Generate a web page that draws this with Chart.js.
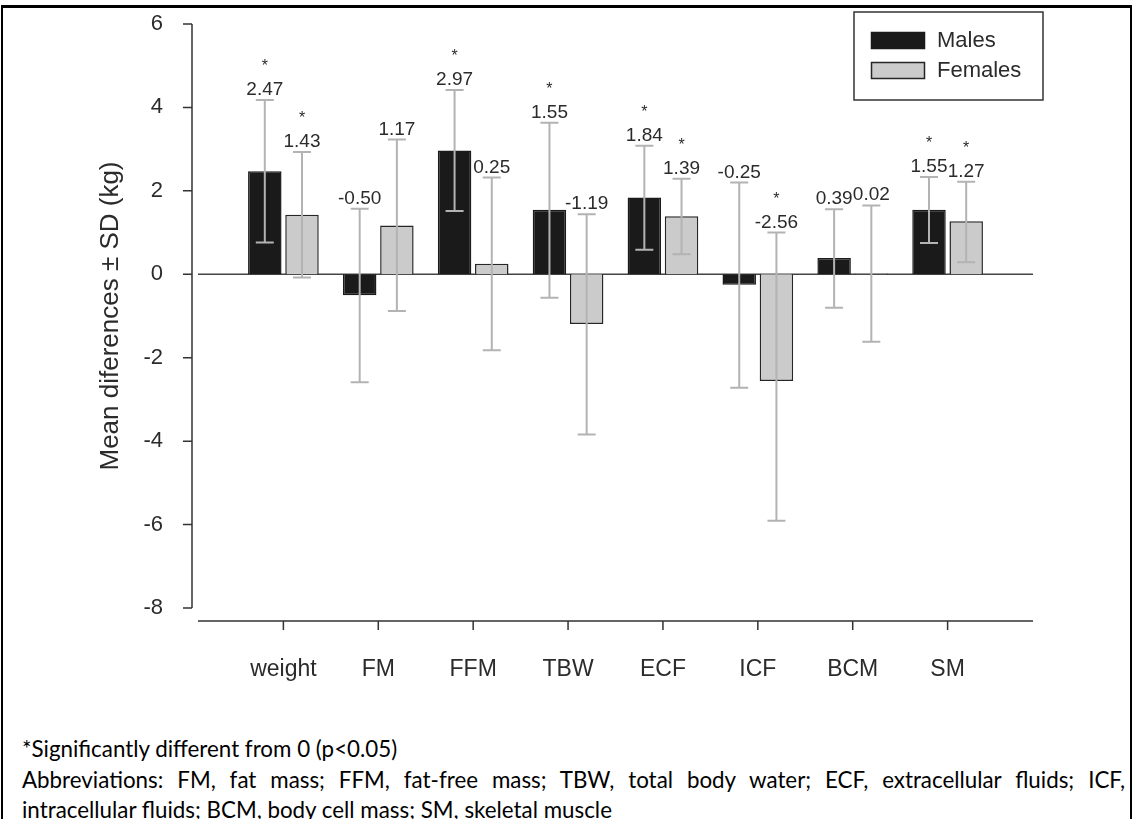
<!DOCTYPE html>
<html>
<head>
<meta charset="utf-8">
<script src="https://cdn.jsdelivr.net/npm/chart.js@4.4.0/dist/chart.umd.min.js"></script>
<style>
body { margin: 0; background: #fff; }
#page { position: relative; width: 1134px; height: 819px; overflow: hidden; background: #fff; }
#frame { position: absolute; left: 1px; top: 5px; width: 1131px; height: 830px; box-sizing: border-box;
         border: solid #000; border-width: 3px 2px 0 2px; pointer-events: none; }
canvas { position: absolute; left: 0; top: 0; }
.note { position: absolute; left: 22px; font-family: Lato, "Open Sans", sans-serif; color: #000;
        white-space: nowrap; line-height: 1; }
</style>
</head>
<body>
<div id="page">
  <canvas id="chart" width="1134" height="700"></canvas>
  <div class="note" id="n1" style="top:738px">*Significantly different from 0 (p&lt;0.05)</div>
  <div class="note" id="n2" style="top:769px; width:1103px; white-space:normal; text-align:justify; text-align-last:justify">Abbreviations: FM, fat mass; FFM, fat-free mass; TBW, total body water; ECF, extracellular fluids; ICF,</div>
  <div class="note" id="n3" style="top:799px">intracellular fluids; BCM, body cell mass; SM, skeletal muscle</div>
  <div id="frame"></div>
</div>
<script>
const categories = ['weight', 'FM', 'FFM', 'TBW', 'ECF', 'ICF', 'BCM', 'SM'];
const males = [2.47, -0.50, 2.97, 1.55, 1.84, -0.25, 0.39, 1.55];
const females = [1.43, 1.17, 0.25, -1.19, 1.39, -2.56, 0.02, 1.27];
// ends of the SD whiskers
const malesUpper = [4.18, 1.57, 4.42, 3.63, 3.08, 2.20, 1.56, 2.33];
const malesLower = [0.76, -2.59, 1.52, -0.56, 0.59, -2.72, -0.80, 0.75];
const femalesUpper = [2.93, 3.23, 2.32, 1.44, 2.29, 1.00, 1.65, 2.22];
const femalesLower = [-0.08, -0.88, -1.82, -3.84, 0.48, -5.91, -1.62, 0.29];
// significant difference from 0 (asterisk)
const malesSig = [1, 0, 1, 1, 1, 0, 0, 1];
const femalesSig = [1, 0, 0, 0, 1, 1, 0, 1];
const yTicks = [6, 4, 2, 0, -2, -4, -6, -8];

const FONT = '"Liberation Sans", Arial, sans-serif';

// fit the footnote font so the first line is as wide as in the figure
(function () {
    const c = document.createElement('canvas').getContext('2d');
    c.font = '100px Lato';
    const w = c.measureText(document.getElementById('n1').textContent).width;
    const size = 100 * 376 / w;
    document.querySelectorAll('.note').forEach(n => n.style.fontSize = size + 'px');
})();

const sdPlugin = {
    id: 'sdPlugin',
    beforeDatasetsDraw(chart) {
        const {ctx, chartArea, scales: {y}} = chart;
        const y0 = y.getPixelForValue(0);
        ctx.save();
        ctx.strokeStyle = '#444';
        ctx.lineWidth = 1.5;
        ctx.beginPath();
        ctx.moveTo(chartArea.left, y0);
        ctx.lineTo(chartArea.right, y0);
        ctx.stroke();
        ctx.restore();
    },
    afterDatasetsDraw(chart) {
        const {ctx, scales: {y}} = chart;
        ctx.save();
        chart.data.datasets.forEach((ds, d) => {
            chart.getDatasetMeta(d).data.forEach((bar, i) => {
                const top = y.getPixelForValue(ds.upper[i]);
                const bot = y.getPixelForValue(ds.lower[i]);
                ctx.strokeStyle = '#b3b3b3';
                ctx.lineWidth = 2;
                ctx.beginPath();
                ctx.moveTo(bar.x, top); ctx.lineTo(bar.x, bot);
                ctx.moveTo(bar.x - 9, top); ctx.lineTo(bar.x + 9, top);
                ctx.moveTo(bar.x - 9, bot); ctx.lineTo(bar.x + 9, bot);
                ctx.stroke();
                ctx.fillStyle = '#2b2b2b';
                ctx.textAlign = 'center';
                ctx.textBaseline = 'alphabetic';
                ctx.font = '19px ' + FONT;
                ctx.fillText(ds.data[i].y.toFixed(2), bar.x, top - 5);
                if (ds.sig[i]) {
                    ctx.font = '16px ' + FONT;
                    ctx.fillText('*', bar.x, top - 29);
                }
            });
        });
        ctx.restore();
    },
    afterDraw(chart) {
        const {ctx, chartArea, scales: {x, y}} = chart;
        ctx.save();
        ctx.strokeStyle = '#333';
        ctx.lineWidth = 1.5;
        // y axis, set a little left of the plot
        const ax = chartArea.left - 6;
        ctx.beginPath();
        ctx.moveTo(ax, y.getPixelForValue(yTicks[0]));
        ctx.lineTo(ax, y.getPixelForValue(yTicks[yTicks.length - 1]));
        yTicks.forEach(v => {
            const py = y.getPixelForValue(v);
            ctx.moveTo(ax - 9, py); ctx.lineTo(ax, py);
        });
        // x axis, set a little below the plot
        const ay = chartArea.bottom + 13;
        ctx.moveTo(chartArea.left, ay);
        ctx.lineTo(chartArea.right, ay);
        categories.forEach((c, i) => {
            const px = x.getPixelForValue(i);
            ctx.moveTo(px, ay); ctx.lineTo(px, ay + 9);
        });
        ctx.stroke();

        // legend box
        ctx.lineWidth = 1.5;
        ctx.strokeStyle = '#333';
        ctx.strokeRect(854, 12, 189, 88);
        ctx.font = '22px ' + FONT;
        ctx.textAlign = 'left';
        ctx.textBaseline = 'middle';
        chart.data.datasets.forEach((ds, d) => {
            const top = 32 + d * 30;
            ctx.fillStyle = ds.backgroundColor;
            ctx.fillRect(871, top, 54, 17);
            ctx.strokeStyle = ds.borderColor;
            ctx.strokeRect(871.5, top + 0.5, 53, 16);
            ctx.fillStyle = '#2b2b2b';
            ctx.fillText(ds.label, 937, top + 9);
        });
        ctx.restore();
    }
};

new Chart(document.getElementById('chart'), {
    type: 'bar',
    data: {
        datasets: [
            {
                label: 'Males',
                data: males.map((v, i) => ({x: i, y: v})),
                upper: malesUpper, lower: malesLower, sig: malesSig,
                backgroundColor: '#1a1a1a',
                borderColor: '#1a1a1a',
                borderWidth: 1.5,
                categoryPercentage: 0.784,
                barPercentage: 0.9
            },
            {
                label: 'Females',
                data: females.map((v, i) => ({x: i, y: v})),
                upper: femalesUpper, lower: femalesLower, sig: femalesSig,
                backgroundColor: '#cbcbcb',
                borderColor: '#262626',
                borderWidth: 1.5,
                categoryPercentage: 0.784,
                barPercentage: 0.9
            }
        ]
    },
    options: {
        responsive: false,
        animation: false,
        layout: {padding: {left: 80, right: 101, top: 24, bottom: 0}},
        plugins: {legend: {display: false}, tooltip: {enabled: false}},
        scales: {
            x: {
                type: 'linear',
                min: -0.9,
                max: 7.9,
                offset: false,
                grid: {display: false},
                border: {display: false},
                afterBuildTicks: s => { s.ticks = categories.map((c, i) => ({value: i})); },
                afterFit: s => { s.height = 92; s.paddingLeft = 0; s.paddingRight = 0; },
                ticks: {
                    autoSkip: false,
                    maxRotation: 0,
                    padding: 40,
                    color: '#2b2b2b',
                    font: {family: FONT, size: 23},
                    callback: v => categories[v]
                }
            },
            y: {
                min: -8,
                max: 6,
                grid: {display: false},
                border: {display: false},
                afterBuildTicks: s => { s.ticks = yTicks.map(v => ({value: v})); },
                afterFit: s => { s.width = 118; s.paddingTop = 0; s.paddingBottom = 0; },
                ticks: {
                    padding: 27,
                    color: '#2b2b2b',
                    font: {family: FONT, size: 22}
                },
                title: {
                    display: true,
                    text: 'Mean diferences ± SD (kg)',
                    color: '#2b2b2b',
                    font: {family: FONT, size: 26},
                    padding: 15
                }
            }
        }
    },
    plugins: [sdPlugin]
});
</script>
</body>
</html>
